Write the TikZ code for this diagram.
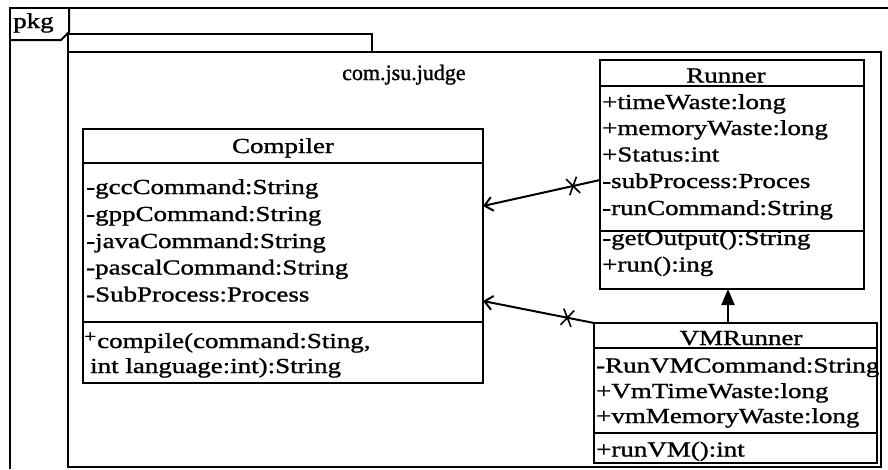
\documentclass[tikz,border=0pt]{standalone}
\usepackage{fontspec}
\setmainfont{Liberation Serif}[FakeStretch=1.26,FakeBold=1.2]
\newfontfamily\pkgnamefont{Liberation Serif}[FakeBold=1.2]
\usetikzlibrary{arrows.meta,shapes.misc}

\begin{document}
\begin{tikzpicture}[x=1pt,y=-1pt,
  frame/.style={line width=2pt},
  txt/.style={anchor=base west, inner sep=0pt, font=\fontsize{21.4}{24}\selectfont},
  ttl/.style={anchor=base, inner sep=0pt, font=\fontsize{21.4}{24}\selectfont},
  classbox/.style={draw, line width=2pt, anchor=north west, inner sep=0pt, outer sep=0pt},
  assoc/.style={line width=2pt, -{Straight Barb[length=8pt,width=14pt,line width=2pt]}},
  xmark/.style={cross out, draw, line width=1.6pt, minimum width=9pt, minimum height=15pt, inner sep=0pt, sloped},
  gen/.style={line width=2pt, -{Triangle[length=16pt,width=13pt]}}
]
\useasboundingbox (0,0) rectangle (888,469);

% outer diagram frame with its "pkg" tab
\draw[frame] (10,469) -- (10,8) -- (888,8);
\draw[frame] (10,40) -- (61,40) -- (69,32) -- (69,8);
\node[txt] (pkglabel) at (13,28) {pkg};

% package com.jsu.judge
\draw[frame] (68,52) -- (68,34) -- (372,34) -- (372,52);
\draw[frame] (68,52) rectangle (881,467);
\node[anchor=base west, inner sep=0pt, font=\pkgnamefont\fontsize{22}{26}\selectfont] (pkgname) at (342,80) {com.jsu.judge};

% class Compiler
\node[classbox, minimum width=400pt, minimum height=254pt] (compiler) at (83,129) {};
\draw[frame] (83,163) -- (483,163);
\draw[frame] (83,322) -- (483,322);
\node[ttl] (ct) at (283,153) {Compiler};
\node[txt] (c1) at (86,194) {-gccCommand:String};
\node[txt] (c2) at (86,221) {-gppCommand:String};
\node[txt] (c3) at (86,248) {-javaCommand:String};
\node[txt] (c4) at (86,274.5) {-pascalCommand:String};
\node[txt] (c5) at (86,301.5) {-SubProcess:Process};
\node[anchor=base west, inner sep=0pt, font=\fontsize{17}{20}\selectfont] (cplus) at (84,342) {+};
\node[txt] (co1) at (97,348) {compile(command:Sting,};
\node[txt] (co2) at (90,373) {int language:int):String};

% class Runner
\node[classbox, minimum width=264pt, minimum height=229pt] (runner) at (600,60) {};
\draw[frame] (600,86) -- (864,86);
\draw[frame] (600,231) -- (864,231);
\node[ttl] (rt) at (726,82.5) {Runner};
\node[txt] (r1) at (602,109) {+timeWaste:long};
\node[txt] (r2) at (602,135) {+memoryWaste:long};
\node[txt] (r3) at (602,161.5) {+Status:int};
\node[txt] (r4) at (602,188) {-subProcess:Proces};
\node[txt] (r5) at (602,215) {-runCommand:String};
\node[txt] (ro1) at (602,245) {-getOutput():String};
\node[txt] (ro2) at (602,271.5) {+run():ing};

% class VMRunner
\node[classbox, minimum width=283pt, minimum height=140pt] (vm) at (594,323) {};
\draw[frame] (594,348) -- (877,348);
\draw[frame] (594,433) -- (877,433);
\node[ttl] (vt) at (741,345) {VMRunner};
\node[txt] (v1) at (596,372.5) {-RunVMCommand:String};
\node[txt] (v2) at (596,398) {+VmTimeWaste:long};
\node[txt] (v3) at (596,423) {+vmMemoryWaste:long};
\node[txt] (vo1) at (596,456.5) {+runVM():int};

% relationships
\coordinate (gx) at (728,0);
\draw[gen] (vm.north -| gx) -- (runner.south -| gx);
\draw[assoc] ([yshift=-5.5pt]runner.west) -- node[xmark, pos=0.23] (x1) {} ([yshift=50pt]compiler.east);
\draw[assoc] (vm.north west) -- node[xmark, pos=0.24] (x2) {} ([yshift=-45pt]compiler.east);
\end{tikzpicture}
\end{document}
